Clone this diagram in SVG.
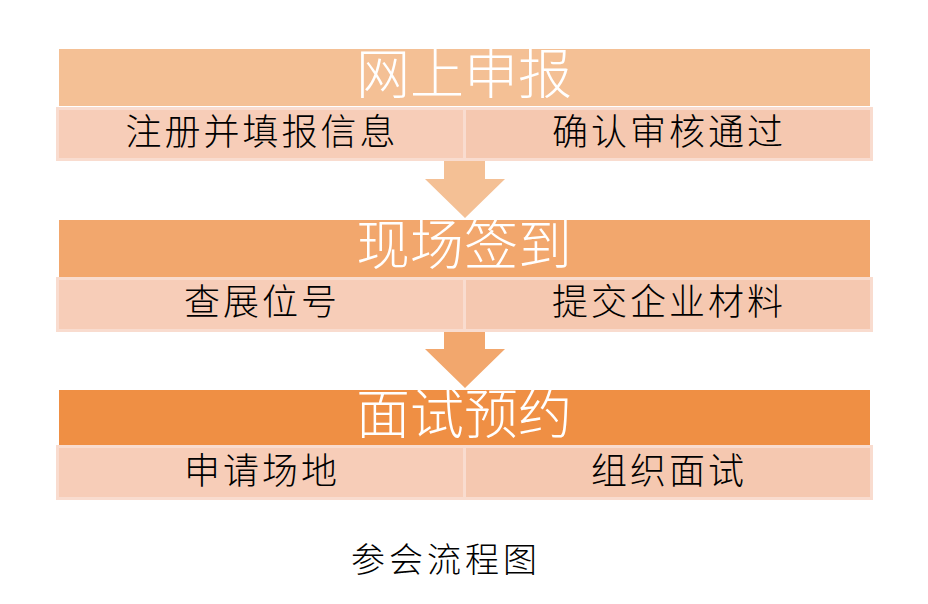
<svg xmlns="http://www.w3.org/2000/svg" width="928" height="604" viewBox="0 0 928 604">
<style>
.hd{font-family:"Noto Sans CJK SC","Noto Sans",sans-serif;font-size:54px;font-weight:300;fill:#ffffff;text-anchor:middle}
.sb{font-family:"Noto Sans CJK SC","Noto Sans",sans-serif;font-size:36px;font-weight:300;letter-spacing:3px;fill:#000000;text-anchor:middle}
.cap{font-family:"Noto Sans CJK SC","Noto Sans",sans-serif;font-size:34px;font-weight:300;letter-spacing:4px;fill:#000000;text-anchor:middle}
.cl{fill:#f7cdb8;stroke:#f9dccf;stroke-width:3}
.cr{fill:#f5c8b0;stroke:#f9dccf;stroke-width:3}
</style>
<rect width="928" height="604" fill="#ffffff"/>
<g id="connectors">
<polygon points="444,161 485,161 485,179 505,179 465,218 425,179 444,179" fill="#f4c095"/>
<polygon points="444,332 485,332 485,349 505,349 465,388 425,349 444,349" fill="#f2a76d"/>
</g>
<g id="step1">
<rect x="59" y="49" width="811" height="57" fill="#f4c095"/>
<text class="hd" x="464" y="94">网上申报</text>
</g>
<g id="step1-a">
<rect class="cl" x="57.5" y="108.5" width="407" height="51"/>
<text class="sb" x="262" y="145">注册并填报信息</text>
</g>
<g id="step1-b">
<rect class="cr" x="464.5" y="108.5" width="407" height="51"/>
<text class="sb" x="669" y="145">确认审核通过</text>
</g>
<g id="step2">
<rect x="59" y="220" width="811" height="57" fill="#f2a76d"/>
<text class="hd" x="464" y="265">现场签到</text>
</g>
<g id="step2-a">
<rect class="cl" x="57.5" y="278.5" width="407" height="52"/>
<text class="sb" x="262" y="315">查展位号</text>
</g>
<g id="step2-b">
<rect class="cr" x="464.5" y="278.5" width="407" height="52"/>
<text class="sb" x="669" y="315">提交企业材料</text>
</g>
<g id="step3">
<rect x="59" y="390" width="811" height="55" fill="#ef8f44"/>
<text class="hd" x="464" y="434">面试预约</text>
</g>
<g id="step3-a">
<rect class="cl" x="57.5" y="446.5" width="407" height="52"/>
<text class="sb" x="262" y="484">申请场地</text>
</g>
<g id="step3-b">
<rect class="cr" x="464.5" y="446.5" width="407" height="52"/>
<text class="sb" x="669" y="484">组织面试</text>
</g>
<g id="caption">
<text class="cap" x="446" y="572">参会流程图</text>
</g>
</svg>
